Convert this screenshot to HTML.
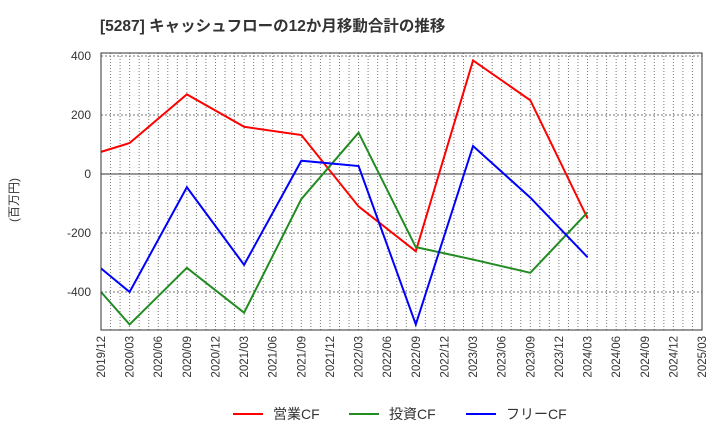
<!DOCTYPE html>
<html><head><meta charset="utf-8"><style>
body{margin:0;background:#fff;font-family:"Liberation Sans","Noto Sans CJK JP",sans-serif}
</style></head><body>
<svg id="c" width="720" height="440" xmlns="http://www.w3.org/2000/svg">
<text x="100" y="31" font-size="15.5" font-weight="bold" fill="#333" font-family="Liberation Sans,Noto Sans CJK JP,sans-serif">[5287]  キャッシュフローの12か月移動合計の推移</text>
<text transform="translate(18,200) rotate(-90)" font-size="12" fill="#333" text-anchor="middle" font-family="Liberation Sans,Noto Sans CJK JP,sans-serif">(百万円)</text>
<g id="grid"></g><g id="series"></g><g id="axes"></g>
<g font-size="14" fill="#333" font-family="Liberation Sans,Noto Sans CJK JP,sans-serif">
<line x1="233" y1="414" x2="263" y2="414" stroke="#f00" stroke-width="2"/><text x="273" y="419">営業CF</text>
<line x1="349" y1="414" x2="379" y2="414" stroke="#228b22" stroke-width="2"/><text x="389" y="419">投資CF</text>
<line x1="466" y1="414" x2="496" y2="414" stroke="#00f" stroke-width="2"/><text x="506" y="419">フリーCF</text>
</g>
</svg>
<script>
const xLabels=["2019/12","2020/03","2020/06","2020/09","2020/12","2021/03","2021/06","2021/09","2021/12","2022/03","2022/06","2022/09","2022/12","2023/03","2023/06","2023/09","2023/12","2024/03","2024/06","2024/09","2024/12","2025/03"];
const yTicks=[-400,-200,0,200,400];
const pointIdx=[0,1,3,5,7,9,11,13,15,17];
const opCF=[75,105,270,160,132,-110,-262,385,250,-150];
const invCF=[-400,-510,-318,-470,-85,140,-248,-290,-335,-130];
const freeCF=[-320,-400,-45,-308,45,27,-510,95,-80,-282];
const L=101,R=702,T=53,B=330;
const xq=i=>L+(R-L)*i/21;
const y=v=>174-v*59/200;
const ns="http://www.w3.org/2000/svg";
function mk(p,t,a){const e=document.createElementNS(ns,t);for(const k in a)e.setAttribute(k,a[k]);p.appendChild(e);return e;}
const g=document.getElementById('grid'),ax=document.getElementById('axes'),s=document.getElementById('series');
for(let m=1;m<63;m++){const x=L+(R-L)*m/63;const l=mk(g,'line',{x1:x,x2:x,y1:T,y2:B,stroke:'#777','stroke-dasharray':'1,2','stroke-width':1});

}
yTicks.forEach(v=>{const l=mk(g,'line',{x1:L,x2:R,y1:y(v),y2:y(v),stroke:v==0?'#333':'#777','stroke-dasharray':v==0?'none':'2,2','stroke-width':1});


const t=mk(ax,'text',{x:L-10,y:y(v)+4,'text-anchor':'end','font-size':12,fill:'#333'});t.textContent=v;

});
const f=mk(ax,'rect',{x:L,y:T,width:R-L,height:B-T,fill:'none',stroke:'#333'});


xLabels.forEach((lb,i)=>{const x=xq(i);const t=mk(ax,'text',{transform:`translate(${x+4},${B+6}) rotate(-90)`,'text-anchor':'end','font-size':11.5,fill:'#333'});t.textContent=lb;

});
[[opCF,'#f00','operating-cf-line'],[invCF,'#228b22','investing-cf-line'],[freeCF,'#00f','free-cf-line']].forEach(([d,c,n])=>{
const p=mk(s,'polyline',{points:d.map((v,i)=>xq(pointIdx[i])+','+y(v)).join(' '),fill:'none',stroke:c,'stroke-width':2});

});
</script>
</body></html>
